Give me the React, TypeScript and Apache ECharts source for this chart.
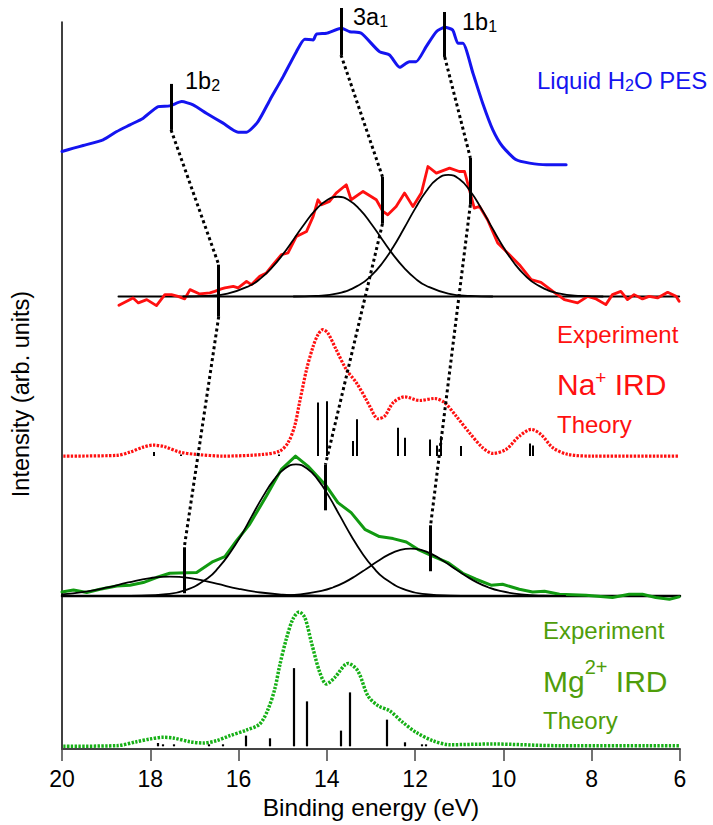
import React, { useEffect, useRef } from 'react';
import * as echarts from 'echarts';

const FONT = '"Liberation Sans", Arial, Helvetica, sans-serif';

// x axis ticks (binding energy, eV)
const xMin = 6;
const xMax = 20;
const xStep = 2;

// Liquid H2O photoelectron spectrum [eV, intensity]
const pesData = [
  [20.0, 597.3], [19.74, 600.7], [19.52, 603.3], [19.07, 609], [18.76, 617.3], [18.46, 624], [18.16, 630.7],
  [17.82, 642.3], [17.56, 643], [17.29, 647.3], [17.03, 644], [16.73, 635.7], [16.35, 625.7], [16.01, 616.7],
  [15.82, 616.7], [15.56, 627.3], [15.29, 649], [14.99, 672.3], [14.69, 697.3], [14.5, 709.7], [14.31, 709],
  [14.24, 714.7], [14.01, 715.7], [13.67, 720.7], [13.48, 717.3], [13.22, 715.7], [12.81, 697.3], [12.58, 694],
  [12.35, 681.7], [12.13, 687.3], [11.98, 687.3], [11.75, 702.3], [11.52, 717.3], [11.33, 721.7], [11.15, 719],
  [11.03, 705.7], [10.92, 705.7], [10.69, 675.7], [10.47, 645.7], [10.24, 619], [10.02, 602.3], [9.71, 589],
  [9.41, 585.7], [9.03, 584], [8.58, 584],
];

// Na+ IRD experiment
const naExpData = [
  [18.71, 443.3], [18.39, 450.7], [18.27, 445.7], [18.08, 449], [17.86, 443], [17.67, 454], [17.52, 454],
  [17.37, 452.3], [17.22, 449.7], [17.1, 459], [16.88, 454.7], [16.65, 455.7], [16.54, 457.3], [16.39, 459.7],
  [16.31, 460.7], [16.12, 462.3], [16.01, 460.7], [15.82, 467.3], [15.71, 464], [15.52, 472.3], [15.37, 475.7],
  [15.22, 484], [15.03, 494], [14.88, 495.7], [14.69, 512.3], [14.46, 517.3], [14.31, 532.3], [14.2, 549],
  [14.12, 544], [13.94, 547.3], [13.79, 555.7], [13.56, 564], [13.45, 549], [13.18, 557.3], [12.88, 549],
  [12.73, 537.3], [12.62, 534], [12.43, 542.3], [12.24, 555.7], [12.05, 542.3], [11.86, 555.7], [11.71, 582.3],
  [11.52, 575.7], [11.22, 580.7], [11.0, 577.3], [10.88, 577.3], [10.77, 559], [10.66, 540.7], [10.54, 542.3],
  [10.36, 529], [10.13, 505.7], [9.94, 497.3], [9.64, 484], [9.37, 469], [9.15, 466.3], [8.88, 457.3],
  [8.62, 449], [8.32, 445.7], [8.09, 452.3], [7.9, 449.7], [7.68, 444], [7.53, 454], [7.34, 457.3],
  [7.19, 449], [7.04, 454], [6.85, 449.7], [6.7, 452.3], [6.51, 450.7], [6.28, 456.3], [6.09, 452.3], [6.02, 447.3],
];
const naBaseline = [[18.72, 452], [6.02, 452]];
const naFit3a1 = [
  [17.25, 452.1], [16.75, 452.7], [16.25, 455.1], [15.75, 462.9], [15.5, 470.3], [15.25, 480.8], [15.0, 494.1],
  [14.75, 509.5], [14.5, 525.2], [14.25, 539.1], [14.0, 548.6], [13.75, 552], [13.5, 548.6], [13.25, 539.1],
  [13.0, 525.2], [12.75, 509.5], [12.5, 494.1], [12.25, 480.8], [12.0, 470.3], [11.75, 462.9], [11.25, 455.1],
  [10.75, 452.7], [10.25, 452.1],
];
const naFit1b1 = [
  [14.75, 452.1], [14.25, 452.7], [13.75, 455.3], [13.25, 464.1], [13.0, 472.8], [12.75, 485.2], [12.5, 501.4],
  [12.25, 520.4], [12.0, 540.1], [11.75, 557.6], [11.5, 569.7], [11.25, 574], [11.0, 569.7], [10.75, 557.6],
  [10.5, 540.1], [10.25, 520.4], [10.0, 501.4], [9.75, 485.2], [9.5, 472.8], [9.25, 464.1], [8.75, 455.3],
  [8.25, 452.7], [7.75, 452.1],
];

// Na+ IRD theory
const naTheoryData = [
  [19.97, 292.3], [18.76, 293], [18.46, 296.3], [18.16, 301.3], [17.93, 303.3], [17.67, 301.7], [17.33, 296.3],
  [16.95, 294], [16.35, 292.3], [15.45, 294], [15.07, 297.3], [14.88, 305.7], [14.73, 322.3], [14.62, 345.7],
  [14.46, 379], [14.31, 402.3], [14.2, 414], [14.09, 419], [13.98, 415.7], [13.79, 399], [13.56, 379],
  [13.33, 365.7], [13.11, 349], [13.03, 342.3], [12.84, 329.7], [12.69, 332.3], [12.5, 345.7], [12.24, 351.7],
  [11.9, 348], [11.56, 350], [11.33, 345.7], [11.07, 332.3], [10.77, 315.7], [10.47, 300.7], [10.24, 295],
  [9.94, 299], [9.64, 312.3], [9.37, 319], [9.15, 314], [8.88, 300.7], [8.54, 294], [7.98, 292.3], [6.02, 292.3],
];
const naStickBase = 292.3;
const naSticks = [
  [17.93, 4], [17.3, 1.5], [15.1, 1.5], [14.2, 53.7], [14.01, 55], [13.41, 15], [13.33, 37], [12.39, 28.3],
  [12.24, 18.3], [11.67, 16.7], [11.52, 10.7], [11.41, 20], [10.96, 10], [9.41, 12.7], [9.34, 10.7],
];

// Mg2+ IRD experiment
const mgExpData = [
  [20.0, 156.3], [19.74, 158.3], [19.44, 155.7], [19.14, 159], [18.76, 162.3], [18.46, 163], [18.16, 165.7],
  [17.86, 170.7], [17.56, 175], [16.95, 175.7], [16.58, 186.7], [16.31, 191.7], [16.05, 207.3], [15.75, 224],
  [15.37, 252.3], [15.03, 279], [14.71, 292.3], [14.43, 282.3], [14.01, 262.3], [13.75, 245.7], [13.45, 235.7],
  [13.14, 219], [12.81, 211.7], [12.5, 209.7], [12.2, 206.3], [11.94, 199], [11.64, 193], [11.26, 185.7],
  [10.92, 175], [10.62, 169], [10.28, 163], [10.02, 164], [9.64, 159], [9.34, 156.3], [9.07, 157], [8.73, 154],
  [8.13, 153], [7.53, 150.7], [7.15, 154], [6.85, 154], [6.55, 150.7], [6.24, 149], [6.02, 151.3],
];
const mgBaseline = [[20.0, 152.3], [6.0, 152.3]];
const mgFit1b2 = [
  [20.0, 153.9], [19.5, 156.4], [19.0, 160.5], [18.5, 165.8], [18.0, 170.2], [17.56, 171.7], [17.0, 169.3],
  [16.5, 164.5], [16.0, 159.4], [15.5, 155.7], [15.0, 153.6], [14.5, 152.7], [14.0, 152.4], [13.0, 152.3],
];
const mgFit3a1 = [
  [18.7, 152.3], [18.2, 152.6], [17.7, 153.8], [17.2, 158.1], [16.7, 170.1], [16.45, 180.8], [16.2, 195.1],
  [15.95, 212.2], [15.7, 232.2], [15.45, 251.7], [15.2, 268.5], [14.95, 279.9], [14.7, 284], [14.45, 279.9],
  [14.2, 268.5], [13.95, 251.7], [13.7, 232.2], [13.45, 212.6], [13.2, 195.1], [12.95, 180.8], [12.7, 170.1],
  [12.2, 158.1], [11.7, 153.8], [11.2, 152.6], [10.7, 152.3],
];
const mgFit1b1 = [
  [15.6, 152.4], [15.1, 152.6], [14.6, 153.8], [14.1, 157.5], [13.85, 161], [13.6, 165.9], [13.35, 172.3],
  [13.1, 179.6], [12.85, 187], [12.6, 193.6], [12.35, 198.1], [12.1, 199.7], [11.85, 198.1], [11.6, 193.6],
  [11.35, 187], [11.1, 179.6], [10.85, 172.3], [10.6, 165.9], [10.35, 161], [10.1, 157.5], [9.6, 153.8],
  [9.1, 152.6], [8.6, 152.4],
];

// Mg2+ IRD theory
const mgTheoryData = [
  [19.97, 1.7], [18.76, 2.3], [18.31, 6.3], [18.01, 9], [17.71, 10.7], [17.48, 10], [17.1, 6.3], [16.8, 5],
  [16.5, 7.3], [16.2, 12.3], [15.82, 18], [15.52, 24], [15.33, 39], [15.18, 59], [15.07, 82.3], [14.92, 109],
  [14.77, 129], [14.63, 136.3], [14.5, 130.7], [14.35, 105.7], [14.16, 75.7], [14.01, 64], [13.82, 70.7],
  [13.52, 84.7], [13.3, 77.3], [13.07, 52.3], [12.84, 42.3], [12.58, 37.3], [12.28, 25.7], [11.98, 15.7],
  [11.6, 7.3], [11.22, 3.3], [10.24, 4], [8.73, 2.3], [6.02, 2.3],
];
const mgStickBase = 1.7;
const mgSticks = [
  [17.84, 3.3], [17.72, 2], [17.47, 2], [16.68, 2], [16.36, 2], [15.84, 10.7], [15.29, 8], [14.74, 78.3],
  [14.45, 45], [13.69, 15.7], [13.48, 54], [12.65, 26.7], [12.24, 4], [11.86, 2], [11.77, 2],
];

// Orbital peak markers [energy, bottom, top] in order 1b2, 3a1, 1b1
const pesMarks = [[17.53, 619, 665], [13.68, 694, 741], [11.33, 692, 737]];
const naMarks = [[16.45, 432, 484], [12.74, 525, 572], [10.75, 544, 591]];
const mgMarks = [[17.23, 155, 201], [14.03, 238, 284], [11.65, 177, 223]];

const BLUE = '#1414f0';
const RED = '#ff1010';
const GREEN_TXT = '#4f9d0a';
const GREEN_EXP = '#119a11';
const GREEN_TH = '#16b016';

function line(data: number[][], color: string, width: number, extra: any = {}) {
  return {
    type: 'line',
    data,
    symbol: 'none',
    showSymbol: false,
    silent: true,
    clip: false,
    smooth: extra.smooth ?? false,
    z: extra.z ?? 2,
    lineStyle: { color, width, type: extra.type ?? 'solid', cap: extra.cap ?? 'round', join: 'round' },
  };
}

function segs(list: number[][][], color: string, width: number, type: any = 'solid', z = 4) {
  return {
    type: 'lines',
    coordinateSystem: 'cartesian2d',
    silent: true,
    clip: false,
    z,
    data: list.map((c) => ({ coords: c })),
    lineStyle: { color, width, opacity: 1, curveness: 0, type, cap: 'butt' },
  };
}

function rt(x: number, y: number, text: string, rich: any) {
  return {
    type: 'text',
    x,
    y,
    silent: true,
    style: { text, rich, align: 'left', verticalAlign: 'top', fontFamily: FONT },
  };
}

function r(fontSize: number, lineHeight: number, fill: string, verticalAlign?: string) {
  const s: any = { fontSize, lineHeight, fill, fontFamily: FONT };
  if (verticalAlign) s.verticalAlign = verticalAlign;
  return s;
}

export default function App() {
  const ref = useRef<HTMLDivElement>(null);
  useEffect(() => {
    const chart = echarts.init(ref.current!, null, { renderer: 'svg' });
    const allMarks = [...pesMarks, ...naMarks, ...mgMarks].map(([e, lo, hi]) => [[e, lo], [e, hi]]);
    const connectors: number[][][] = [];
    for (let i = 0; i < 3; i++) {
      connectors.push([[pesMarks[i][0], pesMarks[i][1]], [naMarks[i][0], naMarks[i][2]]]);
      connectors.push([[naMarks[i][0], naMarks[i][1]], [mgMarks[i][0], mgMarks[i][2]]]);
    }
    const naStickSegs = naSticks.map(([e, h]) => [[e, naStickBase], [e, naStickBase + h]]);
    const mgStickSegs = mgSticks.map(([e, h]) => [[e, mgStickBase], [e, mgStickBase + h]]);

    const option: any = {
      animation: false,
      textStyle: { fontFamily: FONT },
      grid: { left: 62, right: 33, top: 22, bottom: 75, containLabel: false },
      xAxis: {
        type: 'value',
        inverse: true,
        min: xMin,
        max: xMax,
        interval: xStep,
        axisLine: { show: true, onZero: false, lineStyle: { color: '#444', width: 2 } },
        axisTick: { show: true, inside: false, length: 12, lineStyle: { color: '#444', width: 1.5 } },
        axisLabel: { fontSize: 23, color: '#000', margin: 18, fontFamily: FONT },
        splitLine: { show: false },
        name: 'Binding energy (eV)',
        nameLocation: 'middle',
        nameGap: 46,
        nameTextStyle: { fontSize: 24.5, color: '#000', fontFamily: FONT },
      },
      yAxis: {
        type: 'value',
        min: -1,
        max: 727,
        position: 'left',
        axisLine: { show: true, onZero: false, lineStyle: { color: '#000', width: 1.5 } },
        axisTick: { show: false },
        axisLabel: { show: false },
        splitLine: { show: false },
      },
      series: [
        line(pesData, BLUE, 3, { smooth: 0.2 }),
        line(naBaseline, '#000', 2, { z: 1 }),
        line(naFit3a1, '#000', 1.8, { smooth: true, z: 3 }),
        line(naFit1b1, '#000', 1.8, { smooth: true, z: 3 }),
        line(naExpData, RED, 2.8, { z: 2 }),
        line(naTheoryData, RED, 3.2, { smooth: 0.3, type: [2.4, 1.4], cap: 'butt' }),
        segs(naStickSegs, '#000', 2, 'solid', 3),
        line(mgBaseline, '#000', 2.5, { z: 1 }),
        line(mgExpData, GREEN_EXP, 3, { z: 2 }),
        line(mgFit1b2, '#000', 1.8, { smooth: true, z: 3 }),
        line(mgFit3a1, '#000', 1.8, { smooth: true, z: 3 }),
        line(mgFit1b1, '#000', 1.8, { smooth: true, z: 3 }),
        line(mgTheoryData, GREEN_TH, 3.5, { smooth: 0.3, type: [2.4, 1.4], cap: 'butt' }),
        segs(mgStickSegs, '#000', 2.2, 'solid', 3),
        segs(allMarks, '#000', 3, 'solid', 5),
        segs(connectors, '#000', 3, [3, 3], 5),
      ],
      graphic: [
        rt(185, 69, '{n|1b}{s|2}', { n: r(23.5, 24, '#000'), s: r(16, 11, '#000', 'bottom') }),
        rt(353, 5, '{n|3a}{s|1}', { n: r(23.5, 24, '#000'), s: r(16, 11, '#000', 'bottom') }),
        rt(462, 10, '{n|1b}{s|1}', { n: r(23.5, 24, '#000'), s: r(16, 11, '#000', 'bottom') }),
        rt(537, 67.6, '{n|Liquid H}{s|2}{n|O PES}', { n: r(24, 26, BLUE), s: r(16, 13, BLUE, 'bottom') }),
        rt(557, 322, '{n|Experiment}', { n: r(24, 24, RED) }),
        rt(557, 368.4, '{n|Na}{p|+}{n| IRD}', { n: r(30, 32, RED), p: r(19, 22, RED, 'top') }),
        rt(557, 412, '{n|Theory}', { n: r(24, 24, RED) }),
        rt(543, 618.7, '{n|Experiment}', { n: r(24, 24, GREEN_TXT) }),
        rt(543, 657, '{n|Mg}{p|2+}{n| IRD}', { n: r(30, 48, GREEN_TXT), p: r(20, 20, GREEN_TXT, 'top') }),
        rt(543, 708.7, '{n|Theory}', { n: r(24, 24, GREEN_TXT) }),
        {
          type: 'text',
          x: 21,
          y: 394,
          rotation: Math.PI / 2,
          silent: true,
          style: {
            text: 'Intensity (arb. units)',
            fontSize: 23.5,
            fontFamily: FONT,
            fill: '#000',
            align: 'center',
            verticalAlign: 'middle',
          },
        },
      ],
    };
    chart.setOption(option);
    return () => chart.dispose();
  }, []);
  return <div ref={ref} style={{ position: 'absolute', left: 0, top: 0, width: 713, height: 825 }} />;
}
